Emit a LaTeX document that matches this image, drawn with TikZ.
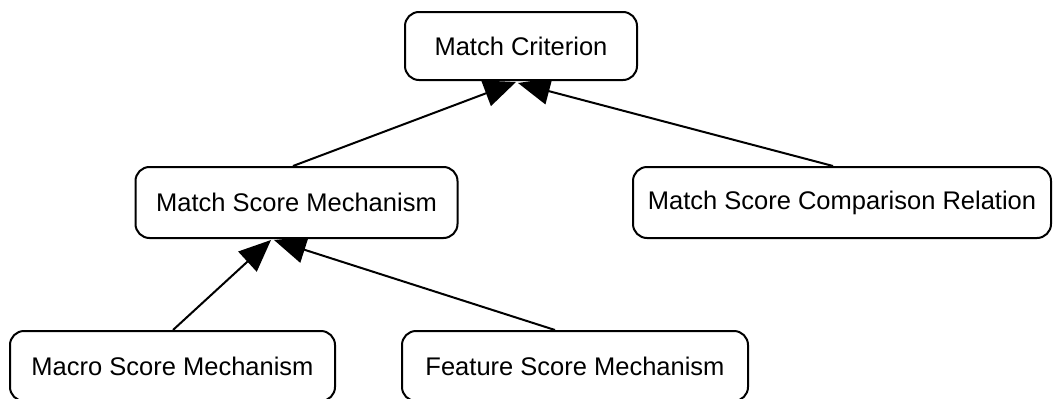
\documentclass[tikz,border=0pt]{standalone}
\usepackage{fontspec}
\setmainfont{Liberation Sans}
\usetikzlibrary{arrows.meta}
\pgfdeclarelayer{edges}
\pgfsetlayers{edges,main}
\tikzset{
  box/.style={draw, line width=2pt, fill=white, rounded corners=14pt,
    inner sep=0pt, font=\fontsize{25.5}{30}\selectfont},
  isa/.style={line width=2pt, -{Triangle[length=32pt,width=27pt]}}
}
\begin{document}
\begin{tikzpicture}[x=1pt,y=-1pt]
\useasboundingbox (0,0) rectangle (1053,399);
% class boxes
\node[box, minimum width=232pt, minimum height=68pt] (mc) at (521,46) {Match Criterion};
\node[box, minimum width=322pt, minimum height=71pt] (msm) at (296.5,202.5) {Match Score Mechanism};
\node[box, minimum width=418pt, minimum height=71pt] (mscr) at (842,202.5) {Match Score Comparison Relation};
\node[box, minimum width=325pt, minimum height=70pt] (macro) at (172.5,366) {Macro Score Mechanism};
\node[box, minimum width=346pt, minimum height=70pt] (feature) at (575,366) {Feature Score Mechanism};
% generalisation arrows, drawn beneath the boxes
\begin{pgfonlayer}{edges}
\draw[isa] ([xshift=-3.5pt]msm.north) -- ([xshift=-5pt,yshift=-1pt]mc.south);
\draw[isa] ([xshift=-9pt]mscr.north) -- ([xshift=-3pt,yshift=-2pt]mc.south);
\draw[isa] ([xshift=0.5pt]macro.north) -- ([xshift=-25.5pt,yshift=-1pt]msm.south);
\draw[isa] ([xshift=-20pt]feature.north) -- ([xshift=-22.5pt,yshift=-1pt]msm.south);
\end{pgfonlayer}
\end{tikzpicture}
\end{document}
